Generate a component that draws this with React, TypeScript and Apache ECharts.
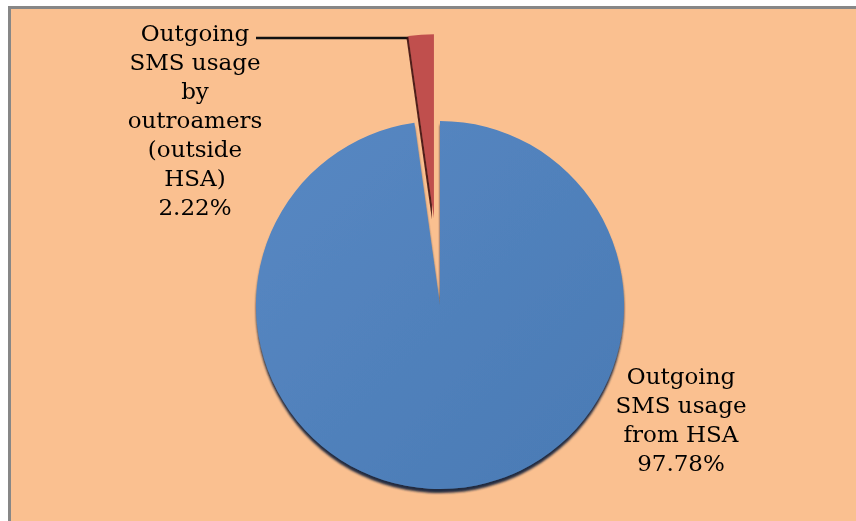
import React, { useEffect, useRef } from "react";
import * as echarts from "echarts";

const categories = [
  "Outgoing\nSMS usage\nfrom HSA",
  "Outgoing\nSMS usage\nby\noutroamers\n(outside\nHSA)",
];
const values = [97.78, 2.22];
const colors = ["#4F81BD", "#C0504D"];
const explodedIndex = 1;

export default function App() {
  const ref = useRef<HTMLDivElement>(null);
  useEffect(() => {
    if (!ref.current) return;
    const chart = echarts.init(ref.current, undefined, { renderer: "svg" });
    const font = "'DejaVu Serif', serif";
    const center = [440, 305];
    const explode = 87;
    const total = values.reduce((a, b) => a + b, 0);
    let before = 0;
    for (let i = 0; i < explodedIndex; i++) before += values[i];
    const midDeg = 90 - ((before + values[explodedIndex] / 2) / total) * 360;
    const rad = (midDeg * Math.PI) / 180;
    const center2 = [
      center[0] + Math.cos(rad) * explode,
      center[1] - Math.sin(rad) * explode,
    ];
    const styleFor = (i: number) =>
      i === 0
        ? {
            color: new echarts.graphic.LinearGradient(0, 0, 1, 1, [
              { offset: 0, color: "#5788C3" },
              { offset: 1, color: "#4A7AB4" },
            ]),
            shadowColor: "rgba(20,35,62,0.95)",
            shadowOffsetY: 4,
            shadowBlur: 2,
          }
        : {
            color: colors[i],
            shadowColor: "rgba(60,15,15,0.9)",
            shadowOffsetX: -2,
            shadowOffsetY: 1,
            shadowBlur: 0,
          };
    const labelBase = {
      show: true,
      position: "outside",
      fontFamily: font,
      fontSize: 23,
      lineHeight: 29,
      color: "#000",
      align: "center",
      formatter: (p: any) => `${p.name}\n${p.value.toFixed(2)}%`,
    };
    const hidden = {
      itemStyle: { color: "transparent", shadowBlur: 0, shadowOffsetY: 0, shadowColor: "transparent" },
      label: { show: false },
      labelLine: { show: false },
    };
    const makeSeries = (c: number[], showIdx: (i: number) => boolean, layout: any) => ({
      type: "pie",
      center: c,
      radius: 184,
      startAngle: 90,
      clockwise: true,
      silent: true,
      emphasis: { disabled: true },
      label: labelBase,
      labelLine: { show: true, lineStyle: { color: "#111", width: 2.5 } },
      labelLayout: layout,
      data: values.map((v, i) =>
        showIdx(i)
          ? { name: categories[i], value: v, itemStyle: styleFor(i), labelLine: { show: i === explodedIndex } }
          : { name: categories[i], value: v, ...hidden }
      ),
    });
    chart.setOption({
      animation: false,
      graphic: [
        {
          type: "rect",
          z: -10,
          silent: true,
          shape: { x: 9.5, y: 7.5, width: 860, height: 530 },
          style: { fill: "#FAC090", stroke: "#878787", lineWidth: 3 },
        },
      ],
      series: [
        makeSeries(center, (i) => i !== explodedIndex, () => ({
          x: 681,
          y: 419,
          align: "center",
          verticalAlign: "middle",
        })),
        makeSeries(center2, (i) => i === explodedIndex, () => ({
          x: 195,
          y: 120,
          align: "center",
          verticalAlign: "middle",
          labelLinePoints: [
            [411, 38],
            [330, 38],
            [256, 38],
          ],
        })),
      ],
    });
    return () => chart.dispose();
  }, []);
  return (
    <div
      ref={ref}
      style={{ position: "fixed", left: 0, top: 0, width: 856, height: 521 }}
    />
  );
}
